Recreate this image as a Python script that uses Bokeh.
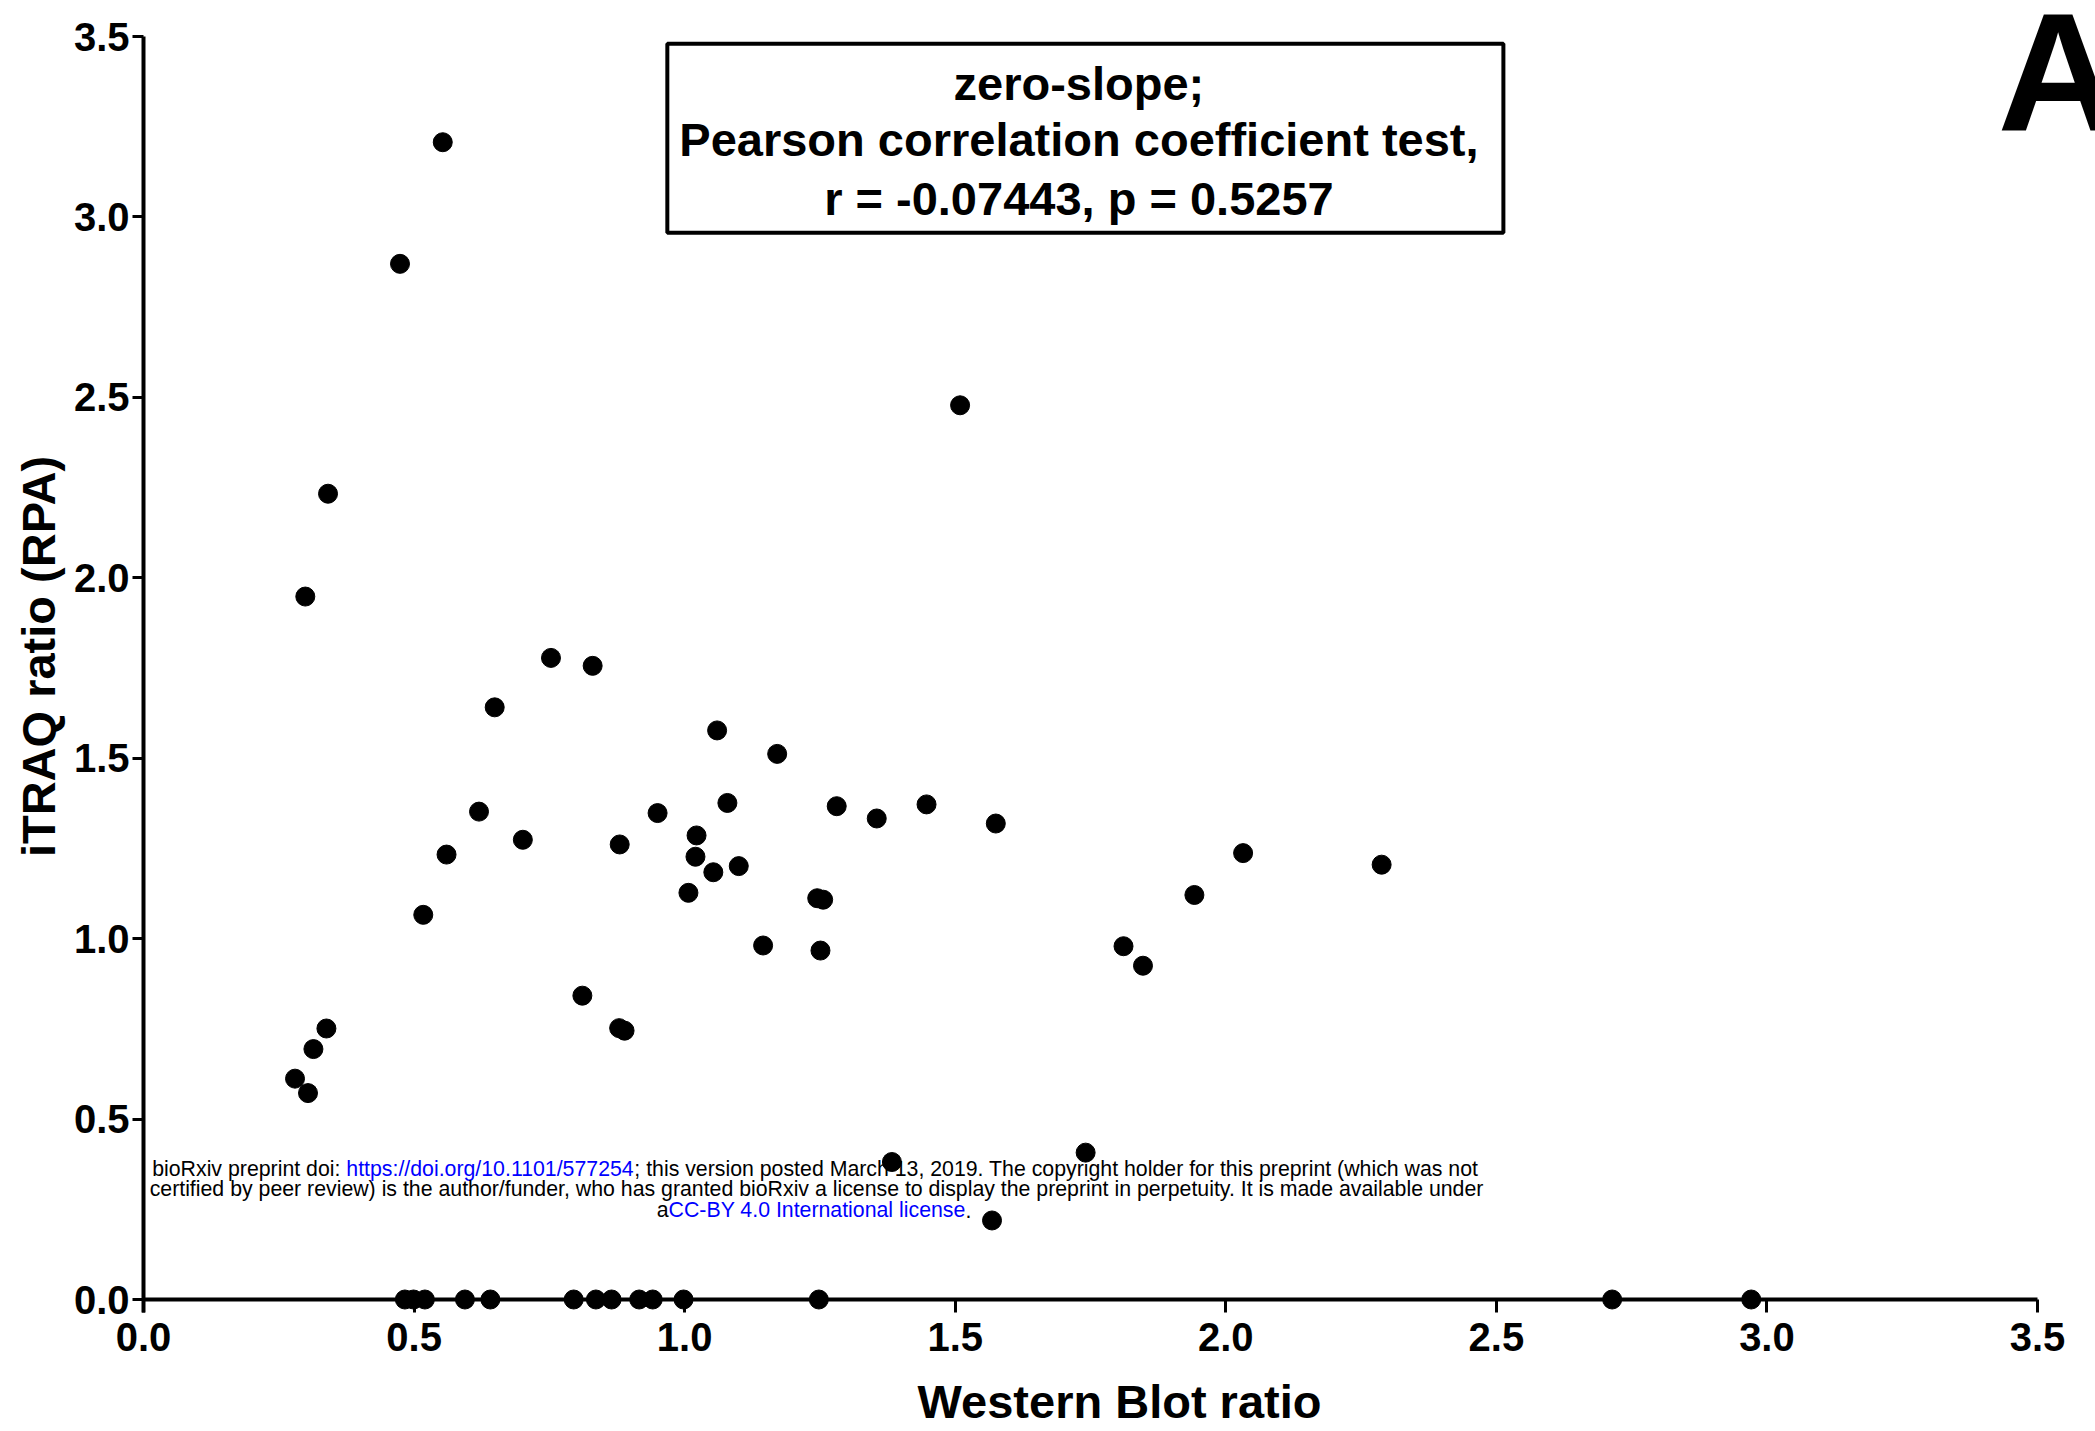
from bokeh.plotting import figure
from bokeh.models import Range1d, FixedTicker, Label, BoxAnnotation, ColumnDataSource
from bokeh.embed import file_html
from bokeh.resources import INLINE

# Data
wb_ratio = [0.553, 0.474, 1.509, 0.341, 0.299, 0.753, 0.830, 0.649, 1.060, 1.171,
            1.079, 1.281, 1.447, 1.355, 0.620, 0.950, 1.575, 1.022, 0.701, 0.880,
            0.560, 1.020, 2.032, 2.288, 1.100, 1.053, 1.007, 1.245, 1.256, 1.942,
            0.517, 1.145, 1.251, 1.811, 1.847, 0.811, 0.879, 0.889, 0.338, 0.314,
            0.280, 0.304, 1.383, 1.741, 1.568,
            0.483, 0.499, 0.520, 0.594, 0.641, 0.795, 0.836, 0.865, 0.916, 0.941,
            0.998, 1.248, 2.714, 2.971]
itraq_ratio = [3.207, 2.870, 2.478, 2.233, 1.948, 1.778, 1.756, 1.641, 1.577, 1.512,
               1.376, 1.367, 1.372, 1.333, 1.352, 1.348, 1.319, 1.286, 1.274, 1.261,
               1.233, 1.227, 1.237, 1.205, 1.201, 1.184, 1.127, 1.112, 1.108, 1.121,
               1.066, 0.981, 0.967, 0.979, 0.925, 0.842, 0.752, 0.745, 0.751, 0.694,
               0.612, 0.572, 0.381, 0.407, 0.219,
               0.0, 0.0, 0.0, 0.0, 0.0, 0.0, 0.0, 0.0, 0.0, 0.0,
               0.0, 0.0, 0.0, 0.0]
tick_values = [0.0, 0.5, 1.0, 1.5, 2.0, 2.5, 3.0, 3.5]
stat_lines = ["zero-slope;", "Pearson correlation coefficient test,", "r = -0.07443, p = 0.5257"]

FONT = "Liberation Sans"

# frame: left edge at the y axis, right/top reach the page edge, bottom 13px under zero
x_ppu = 1894 / 3.5
y_ppu = 1263 / 3.5
p = figure(width=2095, height=1431, output_backend="svg", toolbar_location=None,
           x_range=Range1d(0, 3.5 + 58 / x_ppu),
           y_range=Range1d(-13 / y_ppu, 3.5 + 36 / y_ppu),
           min_border_left=143, min_border_right=0, min_border_top=0, min_border_bottom=119)
p.outline_line_color = None
p.xgrid.visible = False
p.ygrid.visible = False
p.background_fill_color = "white"
p.border_fill_color = "white"

for ax in (p.xaxis[0], p.yaxis[0]):
    ax.ticker = FixedTicker(ticks=tick_values)
    ax.axis_line_width = 4
    ax.axis_line_color = "black"
    ax.major_tick_line_width = 3
    ax.major_tick_line_color = "black"
    ax.minor_tick_out = 0
    ax.minor_tick_in = 0
    ax.major_label_text_font = FONT
    ax.major_label_text_font_style = "bold"
    ax.major_label_text_font_size = "40px"
    ax.major_label_text_color = "black"
    ax.axis_label_text_font = FONT
    ax.axis_label_text_font_style = "bold"
    ax.axis_label_text_font_size = "47px"
    ax.axis_label_text_color = "black"
    ax.major_label_overrides = {v: f"{v:.1f}" for v in tick_values}

xa = p.xaxis[0]
ya = p.yaxis[0]
xa.axis_label = "Western Blot ratio"
ya.axis_label = "iTRAQ ratio (RPA)"
xa.axis_line_color = None          # the zero line is drawn at y = 0 below
xa.major_tick_in = 13
xa.major_tick_out = 0
xa.major_label_standoff = 10
xa.axis_label_standoff = 21
ya.bounds = (-13 / y_ppu, 3.5)
ya.major_tick_out = 11
ya.major_tick_in = 0
ya.major_label_standoff = 3
ya.axis_label_standoff = 6

# watermark (underneath)
wm_size = "21.3px"
def wm(x, y, text, align, color="black"):
    p.add_layout(Label(x=x, y=y, text=text, text_align=align, text_baseline="middle",
                       text_font=FONT, text_font_size=wm_size, text_color=color,
                       level="underlay"))

wm(0.3748, 0.363, "bioRxiv preprint doi: ", "right")
wm(0.3748, 0.363, "https://doi.org/10.1101/577254", "left", "#0000ff")
wm(0.9070, 0.363, "; this version posted March 13, 2019. The copyright holder for this preprint (which was not", "left")
wm(1.2437, 0.305, "certified by peer review) is the author/funder, who has granted bioRxiv a license to display the preprint in perpetuity. It is made available under", "center")
wm(0.9703, 0.247, "a", "right")
wm(0.9703, 0.247, "CC-BY 4.0 International license", "left", "#0000ff")
wm(1.519, 0.247, ".", "left")

# x axis line at zero
p.line(x=[tick_values[0], tick_values[-1]], y=[0, 0], line_width=4, line_color="black")

src = ColumnDataSource(dict(x=wb_ratio, y=itraq_ratio))
p.scatter("x", "y", source=src, size=19, color="black")

box = BoxAnnotation(left=0.968, right=2.513, bottom=2.956, top=3.480,
                    fill_color="white", fill_alpha=1.0,
                    line_color="black", line_alpha=1.0, line_width=4)
p.add_layout(box)
for txt, yv in zip(stat_lines, [3.369, 3.214, 3.051]):
    p.add_layout(Label(x=1.7286, y=yv, text=txt, text_align="center", text_baseline="middle",
                       text_font=FONT, text_font_style="bold", text_font_size="47px",
                       text_color="black"))

p.add_layout(Label(x=3.426, y=3.399, text="A", text_align="left", text_baseline="alphabetic",
                   text_font=FONT, text_font_style="bold", text_font_size="168px",
                   text_color="black"))

open("out.html", "w").write(file_html(p, INLINE))
